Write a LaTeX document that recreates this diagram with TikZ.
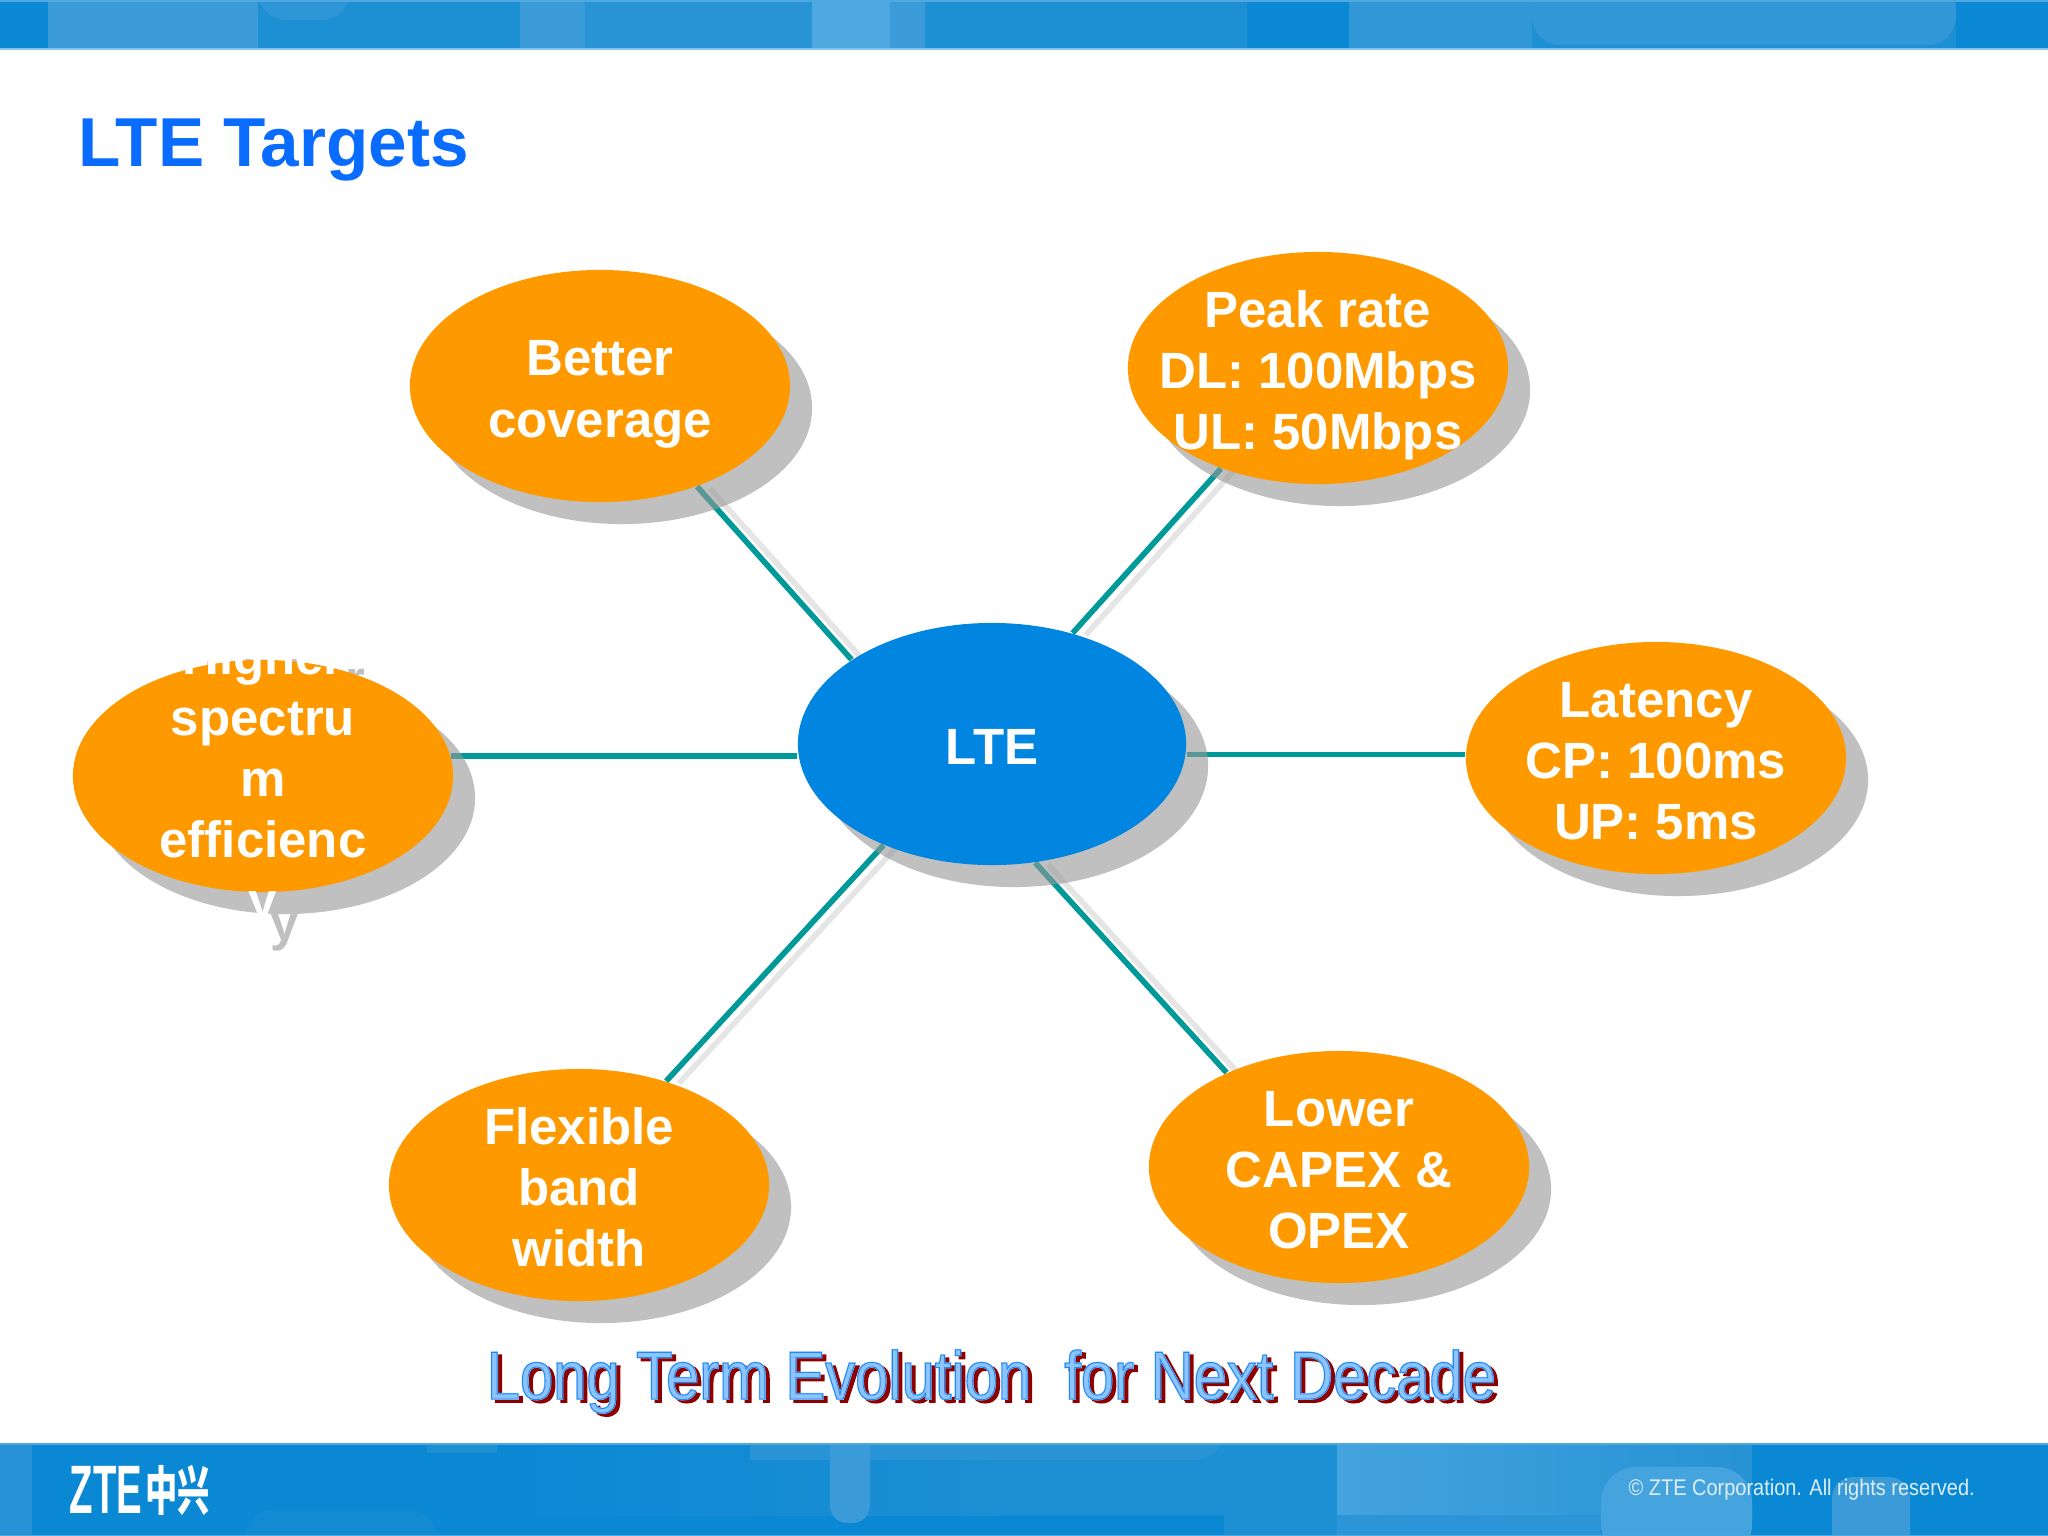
\documentclass[tikz,border=0pt]{standalone}
\usepackage{xcolor}
\usepackage{fontspec}
\setmainfont{Liberation Sans}
\newfontfamily\narrowfont[FakeStretch=.88]{Liberation Sans}
\newfontfamily\glowfont[FakeStretch=.88,FakeBold=2.5]{Liberation Sans}
\newfontfamily\logofont[FakeStretch=.56]{Liberation Sans}
\newfontfamily\cjkfont[FakeStretch=.61]{Noto Sans CJK SC}
\usetikzlibrary{shapes.geometric}
\definecolor{bandbase}{HTML}{1D8FD3}
\definecolor{banddark}{HTML}{0A88D4}
\definecolor{bandlight}{HTML}{3A9BD8}
\definecolor{bandpale}{HTML}{4FA8E0}
\definecolor{blobfill}{HTML}{FF9900}
\definecolor{hubfill}{HTML}{0085E0}
\definecolor{spokecolor}{HTML}{009999}
\definecolor{shadowgray}{HTML}{969696}
\definecolor{titleblue}{HTML}{0A6CFF}
\definecolor{captionred}{HTML}{8C0000}
\definecolor{captionglow}{HTML}{8CC4FF}
\definecolor{captionline}{HTML}{1E88F0}
\newcommand{\blobtext}[1]{\smash{\raisebox{-.41em}{\makebox[0pt]{\begin{tabular}{@{}c@{}}#1\end{tabular}}}}}
\newcommand{\outlinetext}{\special{pdf:code 1 Tr 0.25 w}}
\newcommand{\filltext}{\special{pdf:code 0 Tr}}
\pgfdeclarelayer{bands}
\pgfdeclarelayer{spokes}
\pgfdeclarelayer{shadows}
\pgfsetlayers{bands,spokes,shadows,main}
\tikzset{
  blob/.style={ellipse,fill=blobfill,minimum width=3.8cm,minimum height=2.32cm,inner sep=0pt,text=white,font=\fontsize{14.5}{17.4}\selectfont\bfseries},
  hub/.style={blob,fill=hubfill,minimum width=3.88cm,minimum height=2.42cm},
  blobshadow/.style={blob,fill=shadowgray,text=shadowgray},
  hubshadow/.style={hub,fill=shadowgray,text=shadowgray},
  spoke/.style={draw=spokecolor,line width=1.6pt},
  spokeshadow/.style={draw=black!10,line width=1.6pt,transform canvas={xshift=.13cm,yshift=-.02cm}},
  banner/.style={inner sep=0pt,font=\narrowfont\fontsize{19.3}{22}\selectfont}
}
\begin{document}
\begin{tikzpicture}[x=.01cm,y=-.01cm]
\useasboundingbox (0,0) rectangle (2048,1536);
% top band
\begin{pgfonlayer}{bands}
\fill[white] (0,0) rectangle (2048,1536);
\fill[bandbase] (0,0) rectangle (2048,49);
\fill[banddark] (0,0) rectangle (48,49);
\fill[bandlight] (48,0) rectangle (258,49);
\fill[bandlight!60!bandbase,rounded corners=8pt] (258,-20) rectangle (350,20);
\fill[bandlight] (520,0) rectangle (585,49);
\fill[bandlight!40!bandbase] (585,0) rectangle (812,49);
\fill[bandpale] (812,0) rectangle (890,49);
\fill[bandlight] (890,0) rectangle (925,49);
\fill[banddark] (1247,0) rectangle (1349,49);
\fill[bandlight!70!bandbase] (1349,0) rectangle (1532,49);
\fill[bandlight!70!bandbase,rounded corners=8pt] (1532,-20) rectangle (1956,45);
\fill[banddark] (1956,0) rectangle (2048,49);
\fill[bandpale!70!white] (0,47.5) rectangle (2048,49.5);
\fill[bandpale] (0,0) rectangle (2048,1.5);
% bottom band
\begin{scope}
\clip (0,1443) rectangle (2048,1536);
\fill[banddark] (0,1443) rectangle (2048,1536);
\fill[bandlight!60!banddark] (0,1443) rectangle (32,1536);
\fill[bandbase!50!banddark,rounded corners=8pt] (245,1510) rectangle (437,1560);
\fill[bandbase] (427,1420) rectangle (497,1453);
\shade[left color=banddark,right color=bandbase] (500,1443) rectangle (1000,1515);
\fill[bandbase] (1000,1443) rectangle (1337,1515);
\fill[bandbase!60!bandlight] (750,1443) rectangle (1000,1460);
\fill[bandbase!60!bandlight,rounded corners=8pt] (900,1420) rectangle (1224,1460);
\fill[bandlight,rounded corners=5pt] (830,1420) rectangle (870,1523);
\fill[bandbase] (1224,1443) rectangle (1337,1536);
\shade[left color=bandpale!85!banddark,right color=bandbase!70!bandlight] (1337,1443) rectangle (1752,1515);
\fill[bandlight!70!banddark] (1337,1515) rectangle (1601,1536);
\fill[bandpale!85!banddark,rounded corners=10pt] (1601,1467) rectangle (1752,1560);
\fill[bandlight,rounded corners=6pt] (1832,1477) rectangle (1910,1560);
\fill[bandpale] (0,1443) rectangle (2048,1444.5);
\fill[bandpale] (0,1534.5) rectangle (2048,1536);
\end{scope}
\end{pgfonlayer}
% title
\node[anchor=base west,inner sep=0pt,text=titleblue,font=\fontsize{19.7}{22}\selectfont\bfseries] (title) at (78,166) {LTE Targets};
% hub and blobs
\node[hub] (lte) at (992,744) {\blobtext{LTE}};
\node[blob] (better) at (600,386) {\blobtext{Better\\coverage}};
\node[blob] (peak) at (1318,368) {\blobtext{Peak rate\\DL: 100Mbps\\UL: 50Mbps}};
\node[blob] (latency) at (1656,758) {\blobtext{Latency\\CP: 100ms\\UP: 5ms}};
\node[blob] (higher) at (263,776) {\blobtext{Higher\\spectru\\m\\efficienc\\y}};
\node[blob] (flexible) at (579,1185) {\blobtext{Flexible\\band\\width}};
\node[blob] (lower) at (1339,1167) {\blobtext{Lower\\CAPEX \&\\OPEX}};
% shadows
\begin{pgfonlayer}{shadows}
\begin{scope}[transparency group,opacity=.6]
\node[hubshadow] (lteshadow) at (1014,766) {};
\node[blobshadow] (bettershadow) at (622,408) {};
\node[blobshadow] (peakshadow) at (1340,390) {};
\node[blobshadow] (latencyshadow) at (1678,780) {};
\node[blobshadow] (highershadow) at (285,798) {\blobtext{Higher\\spectru\\m\\efficienc\\y}};
\node[blobshadow] (flexibleshadow) at (601,1207) {};
\node[blobshadow] (lowershadow) at (1361,1189) {};
\end{scope}
\end{pgfonlayer}
% spokes
\begin{pgfonlayer}{spokes}
\draw[spokeshadow] (lte.149) -- (better.-46.5);
\draw[spokeshadow] (lte.54.8) -- (peak.-134.4);
\draw[spokeshadow] (lte.-70.4) -- (lower.140);
\draw[spokeshadow] (lte.-137) -- (flexible.50);
\draw[spoke] (lte.149) -- (better.-46.5);
\draw[spoke] (lte.54.8) -- (peak.-134.4);
\draw[spoke] (lte.-70.4) -- (lower.140);
\draw[spoke] (lte.-137) -- (flexible.50);
\draw[spoke] (lte.west|-higher.6.4) -- (higher.6.4);
\draw[spoke] (lte.east|-latency.179) -- (latency.179);
\end{pgfonlayer}
% caption
\node[banner,anchor=base west,text=captionred] (captionshadow) at (490,1402) {\glowfont Long Term Evolution\ \ for Next Decade};
\node[banner,anchor=base west,text=captionglow] (captionglow) at (486,1399) {\glowfont Long Term Evolution\ \ for Next Decade};
\node[banner,anchor=base west,text=captionline] (caption) at (486,1399) {\outlinetext Long Term Evolution\ \ for Next Decade\filltext};
% footer
\node[anchor=base west,inner sep=0pt,text=white,font=\logofont\fontsize{19.5}{22}\selectfont\bfseries] (logo) at (69,1513) {ZTE};
\node[anchor=base west,inner sep=0pt,text=white,font=\cjkfont\fontsize{15}{18}\selectfont\bfseries] (logocjk) at (145,1510) {中兴};
\node[anchor=base west,inner sep=0pt,text=white!85!bandbase,font=\narrowfont\fontsize{6.45}{8}\selectfont] (copyright) at (1628,1495) {© ZTE Corporation. All rights reserved.};
\end{tikzpicture}
\end{document}
